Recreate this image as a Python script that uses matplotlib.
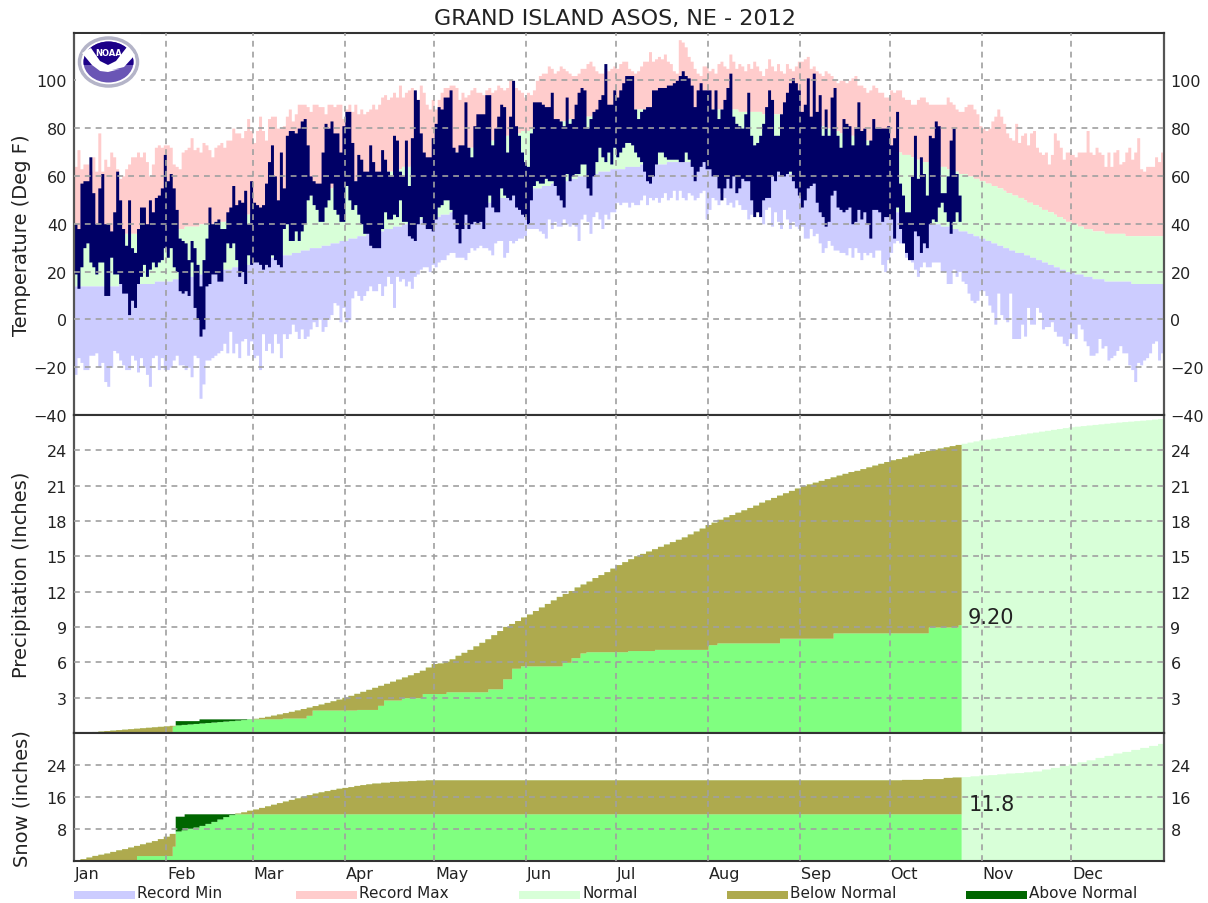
import numpy as np
import matplotlib
matplotlib.use("Agg")
import matplotlib.pyplot as plt
from matplotlib.patches import Ellipse, Polygon, Rectangle

months = ['Jan', 'Feb', 'Mar', 'Apr', 'May', 'Jun', 'Jul', 'Aug', 'Sep', 'Oct', 'Nov', 'Dec']
month_starts = [0, 31, 60, 91, 121, 152, 182, 213, 244, 274, 305, 335]

record_max = [
    64, 71, 63, 65, 65, 62, 68, 62, 78, 62, 67, 64, 70, 68, 63, 59, 60, 63, 65, 68, 68, 70, 68, 70, 66, 60, 65, 72, 73, 72, 73,
    73, 72, 65, 64, 63, 70, 71, 72, 76, 71, 72, 70, 74, 73, 71, 68, 72, 73, 74, 72, 75, 75, 80, 78, 78, 76, 79, 84, 79,
    74, 79, 85, 79, 75, 84, 85, 85, 80, 80, 81, 85, 88, 83, 86, 90, 90, 90, 89, 87, 90, 90, 89, 89, 86, 90, 90, 89, 90, 90, 84,
    88, 90, 87, 90, 86, 88, 86, 87, 88, 90, 88, 90, 93, 94, 92, 93, 95, 93, 98, 93, 95, 96, 97, 95, 92, 98, 95, 90, 88, 92,
    88, 92, 95, 97, 97, 98, 98, 97, 92, 95, 93, 94, 96, 97, 95, 95, 94, 96, 97, 95, 96, 98, 97, 96, 97, 100, 99, 97, 96, 95, 93,
    95, 94, 96, 100, 102, 103, 103, 106, 105, 103, 104, 106, 105, 104, 103, 102, 102, 103, 105, 105, 107, 108, 106, 104, 103, 103, 105, 104, 105, 106,
    105, 107, 108, 108, 105, 104, 103, 104, 106, 108, 108, 112, 108, 109, 110, 109, 111, 108, 107, 104, 103, 117, 116, 114, 110, 108, 105, 103, 102, 106, 106,
    104, 105, 103, 107, 108, 106, 105, 111, 108, 105, 107, 106, 104, 107, 105, 108, 106, 104, 102, 105, 109, 106, 104, 107, 104, 103, 107, 105, 104, 106, 108,
    108, 109, 110, 105, 106, 104, 103, 102, 104, 103, 102, 100, 99, 100, 100, 99, 100, 101, 102, 98, 98, 97, 95, 96, 98, 97, 95, 95, 93, 93,
    96, 95, 96, 96, 93, 92, 92, 90, 90, 92, 93, 93, 91, 90, 90, 90, 90, 90, 90, 93, 91, 90, 88, 87, 87, 89, 90, 90, 88, 86, 81,
    80, 79, 80, 83, 85, 88, 85, 82, 78, 76, 75, 82, 74, 77, 78, 73, 78, 79, 72, 70, 69, 70, 65, 69, 78, 75, 72, 67, 70, 70,
    69, 68, 70, 70, 70, 79, 70, 69, 72, 70, 69, 64, 70, 64, 70, 71, 65, 66, 70, 72, 67, 70, 76, 63, 62, 64, 64, 64, 68, 66, 70,
]
record_min = [
    -23, -16, -18, -21, -21, -15, -15, -14, -20, -18, -26, -28, -20, -13, -14, -17, -19, -21, -21, -15, -17, -22, -16, -20, -23, -28, -16, -15, -21, -16, -21,
    -21, -20, -17, -15, -19, -19, -21, -20, -24, -15, -16, -33, -27, -17, -17, -16, -15, -14, -13, -10, -14, -5, -14, -10, -16, -9, -8, -15, -9,
    -16, -15, -21, -6, -13, -10, -14, -6, -10, -16, -6, -8, -6, -2, -5, -8, -4, -8, -7, -4, -1, -3, 0, -5, -3, 0, 2, 7, 6, -1, 5,
    -1, 0, 9, 12, 10, 8, 10, 12, 14, 12, 12, 15, 10, 14, 18, 15, 5, 18, 16, 17, 14, 16, 13, 18, 19, 21, 22, 22, 20, 23,
    22, 24, 25, 25, 27, 28, 28, 26, 26, 26, 25, 28, 30, 29, 30, 31, 30, 30, 29, 27, 32, 33, 33, 26, 28, 33, 32, 33, 34, 34, 35,
    38, 38, 38, 38, 37, 36, 34, 42, 38, 41, 39, 39, 42, 40, 39, 40, 39, 33, 42, 44, 41, 36, 43, 45, 42, 38, 44, 42, 45, 45,
    49, 48, 49, 49, 47, 49, 48, 48, 50, 52, 48, 51, 50, 51, 49, 51, 53, 50, 51, 54, 50, 54, 51, 50, 53, 52, 50, 51, 53, 54, 42,
    46, 51, 50, 48, 53, 51, 48, 49, 47, 50, 48, 46, 46, 42, 44, 46, 49, 45, 40, 46, 47, 39, 45, 41, 38, 46, 42, 38, 41, 39, 38,
    39, 34, 34, 38, 35, 36, 32, 28, 30, 33, 31, 29, 29, 28, 28, 27, 30, 26, 30, 28, 25, 28, 27, 28, 26, 29, 29, 23, 20, 25,
    28, 32, 33, 32, 32, 26, 25, 24, 21, 18, 22, 24, 22, 22, 24, 24, 24, 20, 20, 15, 15, 21, 18, 20, 16, 15, 11, 8, 7, 8, 12,
    12, 10, 6, 3, -2, 11, 2, 0, -1, 11, -8, -8, -8, -2, -7, 5, -2, -2, 5, 3, -4, -3, -3, -1, -5, -7, -7, -10, -11, -8,
    -6, -8, -2, -4, -9, -11, -15, -15, -14, -8, -12, -11, -17, -16, -15, -13, -11, -14, -14, -19, -21, -26, -18, -19, -17, -16, -14, -10, -9, -17, -14,
]
normal_high = [
    35, 35, 35, 35, 35, 35, 35, 35, 35, 35, 35, 35, 35, 35, 35, 36, 36, 36, 36, 36, 36, 36, 36, 36, 37, 37, 37, 37, 37, 37, 38,
    38, 38, 38, 38, 38, 38, 39, 39, 39, 39, 39, 40, 40, 40, 40, 40, 41, 41, 41, 41, 42, 42, 42, 43, 43, 43, 44, 44, 45,
    45, 45, 46, 46, 46, 47, 47, 48, 48, 48, 49, 49, 50, 50, 50, 51, 51, 52, 52, 52, 53, 53, 54, 54, 54, 55, 55, 56, 56, 56, 57,
    57, 58, 58, 58, 59, 59, 59, 60, 60, 60, 61, 61, 61, 62, 62, 62, 63, 63, 63, 64, 64, 64, 65, 65, 65, 66, 66, 66, 67, 67,
    67, 68, 68, 68, 69, 69, 70, 70, 70, 71, 71, 72, 72, 72, 73, 73, 74, 74, 74, 75, 75, 76, 76, 76, 77, 77, 78, 78, 78, 79, 79,
    79, 80, 80, 80, 81, 81, 81, 82, 82, 82, 83, 83, 83, 83, 84, 84, 84, 84, 85, 85, 85, 85, 86, 86, 86, 86, 86, 87, 87, 87,
    87, 87, 87, 87, 88, 88, 88, 88, 88, 88, 88, 88, 88, 88, 88, 88, 88, 88, 88, 88, 88, 88, 88, 88, 88, 88, 88, 88, 88, 88, 88,
    88, 88, 88, 88, 88, 88, 88, 88, 88, 88, 87, 87, 87, 87, 87, 87, 87, 87, 86, 86, 86, 86, 86, 86, 86, 85, 85, 85, 85, 85, 85,
    84, 84, 83, 83, 82, 82, 81, 81, 80, 80, 80, 79, 79, 78, 78, 78, 77, 77, 76, 76, 76, 75, 75, 74, 74, 74, 73, 73, 72, 72,
    71, 71, 70, 70, 69, 69, 69, 68, 68, 67, 67, 66, 66, 66, 65, 65, 64, 64, 64, 63, 63, 62, 62, 61, 61, 61, 60, 60, 59, 59, 58,
    58, 57, 57, 56, 56, 55, 55, 54, 53, 53, 52, 52, 51, 51, 50, 49, 49, 48, 48, 47, 46, 46, 45, 45, 44, 43, 43, 42, 41, 41,
    40, 40, 39, 39, 38, 38, 38, 37, 37, 37, 37, 36, 36, 36, 36, 36, 36, 36, 35, 35, 35, 35, 35, 35, 35, 35, 35, 35, 35, 35, 35,
]
normal_low = [
    14, 14, 14, 14, 14, 14, 14, 14, 14, 14, 14, 14, 14, 14, 14, 15, 15, 15, 15, 15, 15, 15, 15, 15, 15, 15, 15, 16, 16, 16, 16,
    16, 16, 17, 17, 17, 17, 18, 18, 18, 18, 19, 19, 19, 19, 20, 20, 20, 20, 20, 21, 21, 21, 22, 22, 22, 23, 23, 23,
    24, 24, 24, 25, 25, 25, 25, 26, 26, 26, 27, 27, 27, 27, 28, 28, 28, 29, 29, 29, 30, 30, 30, 30, 31, 31, 31, 32, 32, 32, 33, 33,
    33, 34, 34, 34, 35, 35, 35, 36, 36, 36, 37, 37, 37, 38, 38, 38, 39, 39, 39, 40, 40, 40, 41, 41, 41, 42, 42, 42, 42, 43,
    43, 43, 44, 44, 44, 45, 45, 45, 46, 46, 46, 47, 47, 47, 48, 48, 48, 49, 49, 50, 50, 50, 51, 51, 51, 52, 52, 52, 53, 53, 53,
    54, 54, 55, 55, 55, 56, 56, 56, 57, 57, 57, 58, 58, 58, 59, 59, 59, 60, 60, 60, 61, 61, 61, 61, 62, 62, 62, 62, 63, 63,
    63, 63, 63, 64, 64, 64, 64, 64, 65, 65, 65, 65, 65, 65, 65, 65, 65, 66, 66, 66, 66, 66, 66, 66, 66, 66, 66, 66, 66, 66, 66,
    66, 66, 66, 66, 66, 66, 65, 65, 65, 65, 65, 65, 65, 65, 64, 64, 64, 64, 64, 63, 63, 63, 63, 62, 62, 62, 62, 61, 61, 61, 60,
    60, 60, 59, 59, 59, 58, 58, 57, 57, 57, 56, 56, 55, 55, 55, 54, 54, 53, 53, 52, 52, 51, 51, 50, 50, 49, 49, 48, 48, 47,
    46, 46, 45, 45, 44, 44, 43, 43, 42, 42, 42, 41, 41, 41, 40, 40, 40, 39, 39, 39, 38, 38, 38, 37, 37, 37, 36, 36, 35, 35, 34,
    34, 33, 33, 32, 32, 31, 31, 30, 30, 29, 29, 28, 28, 28, 27, 27, 26, 26, 25, 25, 24, 24, 23, 23, 22, 22, 21, 21, 20, 20,
    20, 19, 19, 19, 18, 18, 18, 17, 17, 17, 17, 16, 16, 16, 16, 16, 16, 16, 16, 16, 15, 15, 15, 15, 15, 15, 15, 15, 15, 15, 15,
]
obs_high = [
    40, 38, 57, 58, 58, 68, 53, 40, 55, 61, 40, 40, 37, 45, 62, 50, 38, 31, 50, 30, 28, 38, 47, 47, 40, 50, 45, 51, 52, 55, 69,
    58, 61, 55, 46, 34, 33, 32, 25, 33, 30, 23, 14, 25, 34, 47, 40, 41, 42, 38, 38, 45, 47, 56, 48, 50, 49, 54, 40, 58,
    49, 48, 47, 48, 57, 66, 73, 60, 50, 70, 55, 77, 79, 79, 78, 80, 83, 84, 73, 60, 58, 57, 57, 70, 82, 80, 83, 78, 78, 70, 81,
    87, 87, 74, 58, 69, 67, 62, 62, 73, 66, 62, 62, 71, 67, 62, 60, 77, 75, 62, 60, 75, 56, 76, 96, 92, 78, 70, 68, 68, 76,
    82, 89, 88, 93, 93, 96, 72, 70, 73, 73, 91, 72, 68, 81, 86, 86, 86, 94, 94, 73, 80, 85, 90, 89, 70, 85, 100, 81, 77, 70, 66,
    64, 78, 91, 91, 91, 90, 89, 89, 95, 84, 84, 83, 81, 93, 82, 84, 90, 95, 97, 96, 80, 84, 87, 88, 92, 94, 107, 90, 90, 96,
    93, 96, 99, 102, 102, 102, 88, 84, 87, 88, 89, 89, 96, 96, 97, 97, 97, 98, 98, 99, 100, 102, 104, 102, 101, 98, 89, 96, 99, 96, 96,
    96, 88, 96, 84, 88, 92, 97, 103, 85, 82, 81, 80, 86, 95, 77, 73, 74, 77, 82, 89, 96, 92, 77, 77, 86, 91, 95, 99, 101, 99, 96,
    87, 90, 101, 85, 103, 87, 94, 77, 88, 77, 93, 97, 77, 72, 84, 82, 81, 73, 80, 91, 79, 80, 73, 75, 84, 80, 80, 80, 80, 81,
    73, 76, 87, 57, 52, 45, 45, 60, 77, 59, 68, 61, 52, 77, 76, 83, 81, 53, 53, 60, 75, 80, 61, 52,
]
obs_low = [
    19, 13, 22, 30, 32, 24, 22, 19, 24, 24, 10, 10, 26, 19, 19, 15, 11, 11, 2, 8, 5, 15, 18, 23, 18, 21, 24, 22, 24, 25, 30,
    26, 30, 22, 20, 12, 11, 12, 10, 24, 5, 0, -7, -4, 14, 15, 19, 19, 16, 16, 24, 32, 30, 32, 25, 18, 20, 15, 27, 23,
    24, 24, 23, 21, 23, 22, 27, 25, 23, 22, 38, 40, 33, 33, 37, 33, 37, 40, 50, 52, 48, 46, 41, 41, 47, 50, 57, 46, 44, 41, 41,
    56, 50, 46, 48, 44, 40, 36, 36, 31, 30, 30, 30, 38, 45, 42, 42, 44, 43, 50, 41, 41, 35, 34, 33, 40, 43, 40, 38, 38, 37,
    42, 47, 48, 50, 50, 46, 42, 38, 32, 38, 44, 38, 40, 41, 40, 41, 38, 47, 52, 47, 45, 45, 55, 52, 51, 50, 52, 47, 46, 44, 43,
    40, 50, 56, 58, 57, 57, 59, 58, 58, 56, 52, 50, 47, 61, 58, 60, 61, 61, 65, 65, 55, 52, 60, 66, 72, 68, 66, 70, 65, 72,
    68, 70, 72, 74, 74, 73, 70, 68, 66, 62, 58, 57, 60, 65, 70, 70, 68, 67, 67, 67, 67, 66, 66, 70, 67, 64, 58, 62, 64, 66, 63,
    63, 60, 60, 55, 50, 55, 59, 55, 60, 53, 55, 59, 58, 58, 50, 43, 45, 43, 50, 51, 51, 60, 58, 62, 60, 60, 61, 62, 58, 55, 52,
    47, 50, 55, 56, 57, 49, 45, 43, 39, 41, 52, 54, 47, 46, 45, 46, 47, 40, 41, 46, 42, 45, 40, 34, 46, 46, 45, 41, 43, 43,
    42, 34, 47, 38, 32, 28, 25, 25, 37, 35, 28, 32, 30, 40, 42, 41, 47, 49, 45, 41, 36, 41, 45, 41,
]

# cumulative normals, one value for every second day
precip_normal = [
    0.02, 0.05, 0.09, 0.13, 0.17, 0.21, 0.25, 0.29, 0.33, 0.37, 0.41, 0.45, 0.49, 0.53, 0.57, 0.61,
    0.65, 0.69, 0.73, 0.77, 0.81, 0.85, 0.89, 0.93, 0.97, 1.01, 1.05, 1.09, 1.14, 1.19, 1.25,
    1.33, 1.42, 1.52, 1.62, 1.73, 1.84, 1.96, 2.08, 2.2, 2.33, 2.46, 2.6, 2.74, 2.88, 3.03,
    3.2, 3.37, 3.54, 3.71, 3.88, 4.05, 4.22, 4.4, 4.58, 4.76, 4.94, 5.13, 5.33, 5.6, 5.9,
    5.95, 6.1, 6.3, 6.6, 6.85, 7.1, 7.4, 7.7, 8.0, 8.35, 8.7, 9.05, 9.3, 9.55, 9.85,
    10.1, 10.4, 10.7, 11.0, 11.3, 11.6, 11.85, 12.1, 12.4, 12.65, 12.9, 13.2, 13.45, 13.7, 14.0,
    14.3, 14.55, 14.8, 15.05, 15.25, 15.45, 15.65, 15.85, 16.05, 16.25, 16.45, 16.65, 16.9, 17.15, 17.4, 17.7,
    17.9, 18.15, 18.35, 18.55, 18.75, 18.95, 19.15, 19.35, 19.6, 19.8, 20.0, 20.2, 20.4, 20.6, 20.8, 21.0,
    21.15, 21.3, 21.45, 21.6, 21.75, 21.9, 22.05, 22.2, 22.3, 22.45, 22.6, 22.75, 22.9, 23.05, 23.2,
    23.3, 23.45, 23.6, 23.75, 23.9, 24.0, 24.1, 24.2, 24.3, 24.4, 24.5, 24.6, 24.7, 24.8, 24.9,
    24.95, 25.03, 25.1, 25.18, 25.25, 25.33, 25.4, 25.48, 25.55, 25.63, 25.7, 25.78, 25.85, 25.93, 26.0,
    26.05, 26.1, 26.15, 26.2, 26.25, 26.3, 26.35, 26.4, 26.44, 26.48, 26.52, 26.56, 26.6, 26.65, 26.7,
]
# observed totals only change on these days
precip_obs_days = [0, 21, 33, 34, 42, 70, 78, 80, 95, 102, 104, 110, 117, 125, 139, 144, 147, 150, 164, 167, 170, 172, 186, 195, 213, 216, 237, 255, 287, 297]
precip_obs_vals = [0.02, 0.1, 0.6, 1.05, 1.2, 1.27, 1.5, 1.95, 2.0, 2.35, 2.8, 3.0, 3.35, 3.5, 3.75, 4.6, 5.5, 5.7, 6.0, 6.4, 6.8, 6.9, 7.0, 7.1, 7.5, 7.65, 8.05, 8.5, 9.0, 9.2]

snow_normal_days = [0, 2, 4, 6, 8, 10, 12, 14, 16, 18, 20, 22, 24, 26, 28, 30, 32, 34, 36, 38, 40, 42, 44, 46, 48, 50, 52, 54, 56, 58,
                    60, 62, 64, 66, 68, 70, 72, 74, 76, 78, 80, 82, 84, 86, 88, 90, 92, 94, 96, 98, 100, 103, 106, 109, 112, 115, 118,
                    278, 285, 292, 295, 298, 301, 304, 307, 310, 313, 316, 319, 322, 325, 328, 331, 334, 337, 340, 343, 346, 349, 352, 355, 358, 361, 364]
snow_normal_vals = [0.2, 0.6, 1.0, 1.4, 1.7, 2.0, 2.4, 2.8, 3.1, 3.5, 3.9, 4.3, 4.7, 5.1, 5.6, 6.2, 6.9, 7.5, 7.8, 8.2, 8.5, 8.9, 9.4, 9.9, 10.5, 11.1, 11.6, 12.0, 12.3, 12.7,
                    13.0, 13.4, 13.8, 14.2, 14.6, 15.0, 15.4, 15.8, 16.2, 16.6, 17.0, 17.3, 17.6, 17.9, 18.2, 18.4, 18.6, 18.9, 19.1, 19.3, 19.5, 19.7, 19.9, 20.0, 20.1, 20.2, 20.3,
                    20.4, 20.6, 20.9, 21.0, 21.1, 21.3, 21.5, 21.6, 21.8, 22.0, 22.1, 22.3, 22.5, 23.0, 23.4, 23.9, 24.3, 24.8, 25.3, 25.9, 26.4, 27.0, 27.4, 27.9, 28.4, 28.9, 29.4]
snow_obs_days = [0, 21, 33, 34, 37]
snow_obs_vals = [0.02, 1.35, 3.7, 11.2, 11.8]

legend_labels = ['Record Min', 'Record Max', 'Normal', 'Below Normal', 'Above Normal']

COL_MIN = '#ccccff'
COL_MAX = '#ffcccc'
COL_NORMAL = '#d8ffd8'
COL_BELOW = '#aeaa4e'
COL_ABOVE = '#006600'
COL_OBS = '#80ff80'
COL_NAVY = '#000066'
COL_GRID = '#a0a0a0'
COL_TEXT = '#222222'

W, H = 1208.0, 904.0
LEFT, RIGHT = 74.0, 1163.5


def make_axes(fig, top, bottom):
    ax = fig.add_axes([LEFT / W, 1 - bottom / H, (RIGHT - LEFT) / W, (bottom - top) / H])
    ax.set_xlim(0, 366)
    ax.set_xticks(month_starts[1:])
    ax.set_xticklabels([])
    ax.set_axisbelow(False)
    ax.grid(True, color=COL_GRID, linestyle=(0, (3.5, 3)), linewidth=1.2)
    ax.tick_params(length=0, labelsize=11.5, labelcolor=COL_TEXT, labelright=True, pad=5)
    for side in ['left', 'right']:
        ax.spines[side].set_color('#555555')
        ax.spines[side].set_linewidth(1.6)
    for side in ['top', 'bottom']:
        ax.spines[side].set_color('#333333')
        ax.spines[side].set_linewidth(1.5)
    return ax


def stairs(values):
    # repeat the last value so fill_between closes the last day
    return np.append(values, values[-1])


def step_values(days, vals):
    idx = np.searchsorted(days, np.arange(366), side='right') - 1
    return np.array(vals)[np.clip(idx, 0, None)]


def draw_totals(ax, normal, obs, last_day):
    edges = np.arange(367)
    ax.fill_between(edges, 0, stairs(normal), step='post', color=COL_NORMAL, linewidth=0)
    n = last_day + 1
    ax.fill_between(edges[:n + 1], 0, stairs(np.minimum(obs, normal)[:n]), step='post', color=COL_OBS, linewidth=0)
    ax.fill_between(edges[:n + 1], stairs(obs[:n]), stairs(np.maximum(obs, normal)[:n]), step='post', color=COL_BELOW, linewidth=0)
    ax.fill_between(edges[:n + 1], stairs(normal[:n]), stairs(np.maximum(obs, normal)[:n]), step='post', color=COL_ABOVE, linewidth=0)


def draw_logo(fig):
    ax = fig.add_axes([75.5 / W, 1 - 89 / H, 65 / W, 54 / H], zorder=10)
    ax.set_xlim(75.5, 140.5)
    ax.set_ylim(89, 35)
    ax.axis('off')
    ax.add_patch(Rectangle((75.5, 35), 65, 54, color='white', linewidth=0))
    ax.add_patch(Ellipse((108.5, 63), 58, 48, facecolor='white', edgecolor='#b4b4c8', linewidth=2.5))
    disc = Ellipse((108.5, 63), 50, 41, color='#6a55b5', linewidth=0)
    ax.add_patch(disc)
    top = Rectangle((80, 38), 58, 28, color='#1c0088', linewidth=0)
    ax.add_patch(top)
    top.set_clip_path(disc)
    band = Polygon([(82, 54), (91, 49), (100, 62), (108, 66), (116, 62), (127, 48), (135, 56), (124, 68),
                    (112, 71), (120, 70), (108, 73), (100, 72), (92, 66)], color='white', linewidth=0)
    ax.add_patch(band)
    ax.text(108.5, 54, 'NOAA', color='white', fontsize=6, fontweight='bold', ha='center', va='center')


fig = plt.figure(figsize=(W / 100, H / 100), dpi=100)
plt.rcParams['font.family'] = ['DejaVu Sans']

# temperature panel
ax1 = make_axes(fig, 33.5, 416)
edges = np.arange(367)
ax1.fill_between(edges, stairs(normal_high), stairs(record_max), step='post', color=COL_MAX, linewidth=0)
ax1.fill_between(edges, stairs(normal_low), stairs(normal_high), step='post', color=COL_NORMAL, linewidth=0)
ax1.fill_between(edges, stairs(record_min), stairs(normal_low), step='post', color=COL_MIN, linewidth=0)
n_obs = len(obs_high)
ax1.fill_between(edges[:n_obs + 1], stairs(obs_low), stairs(obs_high), step='post', color=COL_NAVY, linewidth=0)
ax1.set_ylim(-40, 120)
ax1.set_yticks(range(-40, 101, 20))

# precipitation panel
ax2 = make_axes(fig, 416, 734)
precip_normal_daily = np.repeat(precip_normal, 2)[:366]
draw_totals(ax2, precip_normal_daily, step_values(precip_obs_days, precip_obs_vals), 297)
ax2.set_ylim(0, 27)
ax2.set_yticks(range(3, 25, 3))
ax2.text(300.3, 9.85, '9.20', fontsize=15, color=COL_TEXT, va='center', zorder=6)

# snow panel
ax3 = make_axes(fig, 734, 862)
draw_totals(ax3, step_values(snow_normal_days, snow_normal_vals), step_values(snow_obs_days, snow_obs_vals), 297)
ax3.set_ylim(0, 32)
ax3.set_yticks([8, 16, 24])
ax3.text(300.6, 14.3, '11.8', fontsize=15, color=COL_TEXT, va='center', zorder=6)

for m, d in zip(months, month_starts):
    ax3.annotate(m, (d, 0), xytext=(0.5, -9), textcoords='offset points', xycoords=('data', 'axes fraction'),
                 fontsize=11.5, color=COL_TEXT, ha='left', va='center')

fig.text(615 / W, 1 - 19 / H, 'GRAND ISLAND ASOS, NE - 2012', fontsize=16, color=COL_TEXT, ha='center', va='center')
fig.text(22 / W, 1 - 235 / H, 'Temperature (Deg F)', fontsize=14, color=COL_TEXT, rotation=90, ha='center', va='center')
fig.text(22 / W, 1 - 575 / H, 'Precipitation (Inches)', fontsize=14, color=COL_TEXT, rotation=90, ha='center', va='center')
fig.text(22 / W, 1 - 799 / H, 'Snow (inches)', fontsize=14, color=COL_TEXT, rotation=90, ha='center', va='center')

# legend along the bottom
swatch_x = [74, 296, 519, 727, 966]
swatch_cols = [COL_MIN, COL_MAX, COL_NORMAL, COL_BELOW, COL_ABOVE]
for x0, col, lab in zip(swatch_x, swatch_cols, legend_labels):
    fig.add_artist(Rectangle((x0 / W, 1 - 900 / H), 61 / W, 8 / H, transform=fig.transFigure, color=col, linewidth=0))
    fig.text((x0 + 63) / W, 1 - 893.5 / H, lab, fontsize=11, color=COL_TEXT, ha='left', va='center')

draw_logo(fig)
fig.savefig('out.png', dpi=100)
